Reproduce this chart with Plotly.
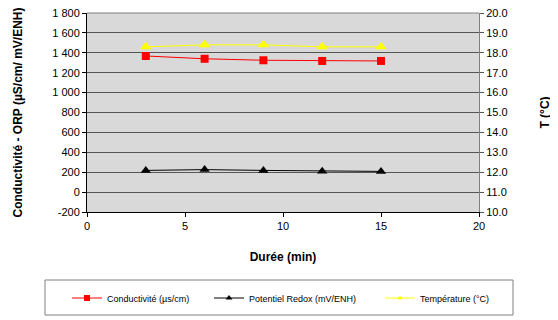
import plotly.graph_objects as go

duree = [3, 6, 9, 12, 15]
conductivite = [1368, 1340, 1325, 1318, 1318]
redox = [218, 226, 218, 210, 208]
temperature = [18.3, 18.4, 18.4, 18.3, 18.3]

left_tickvals = [-200, 0, 200, 400, 600, 800, 1000, 1200, 1400, 1600, 1800]
left_ticktext = ["-200", "0", "200", "400", "600", "800", "1 000", "1 200", "1 400", "1 600", "1 800"]
right_tickvals = [10, 11, 12, 13, 14, 15, 16, 17, 18, 19, 20]
x_tickvals = [0, 5, 10, 15, 20]

names = ["Conductivité (µs/cm)", "Potentiel Redox (mV/ENH)", "Température (°C)"]
colors = ["#FF0000", "#000000", "#FFFF00"]
symbols = ["square", "triangle-up", "triangle-up"]
sizes = [8, 9, 10]
legend_sizes = [6, 6, 5]

FONT = "Liberation Sans, Arial, sans-serif"
# page body has an 8px default margin; layout is expressed in screen pixels
OFF = 8
W, H = 558 - OFF, 320 - OFF
PL, PR, PT, PB = 87 - OFF, 479 - OFF, 13 - OFF, 212 - OFF
PW, PH = PR - PL, PB - PT

def px_x(p):
    return (p - OFF - PL) / PW

def px_y(p):
    return (PB - (p - OFF)) / PH

fig = go.Figure()
series = [(duree, conductivite, "y"), (duree, redox, "y"), (duree, temperature, "y2")]
legend_ids = ["legend", "legend2", "legend3"]
for i, (xs, ys, ax) in enumerate(series):
    fig.add_trace(go.Scatter(x=xs, y=ys, name=names[i], yaxis=ax, showlegend=False,
                             mode="lines+markers", line=dict(color=colors[i], width=1),
                             marker=dict(symbol=symbols[i], size=sizes[i], color=colors[i])))
    fig.add_trace(go.Scatter(x=[None], y=[None], name=names[i], yaxis=ax, showlegend=True,
                             legend=legend_ids[i],
                             mode="lines+markers", line=dict(color=colors[i], width=1),
                             marker=dict(symbol=symbols[i], size=legend_sizes[i], color=colors[i])))

legend_starts = [74, 216, 387]
legend_common = dict(orientation="h", xanchor="left", yanchor="middle", yref="paper",
                     font=dict(size=9, family=FONT), bgcolor="rgba(0,0,0,0)",
                     borderwidth=0, itemwidth=30)

fig.update_layout(
    width=W, height=H,
    margin=dict(l=PL, r=W - PR, t=PT, b=H - PB, autoexpand=False),
    paper_bgcolor="white", plot_bgcolor="#D9D9D9",
    font=dict(family=FONT, size=11, color="black"),
    showlegend=True,
    legend=dict(x=px_x(legend_starts[0] - 7), y=px_y(298), **legend_common),
    legend2=dict(x=px_x(legend_starts[1] - 7), y=px_y(298), **legend_common),
    legend3=dict(x=px_x(legend_starts[2] - 7), y=px_y(298), **legend_common),
    xaxis=dict(range=[0, 20], tickvals=x_tickvals, ticks="outside", ticklen=4,
               tickcolor="black", showline=True, linecolor="black", linewidth=1,
               showgrid=False, zeroline=False, automargin=False,
               title=dict(text="<b>Durée (min)</b>", font=dict(size=12), standoff=21)),
    yaxis=dict(range=[-200, 1800], tickvals=left_tickvals, ticktext=left_ticktext,
               ticks="outside", ticklen=4, tickcolor="black", automargin=False,
               ticklabeloverflow="allow",
               showline=True, linecolor="black", linewidth=1,
               showgrid=True, gridcolor="#555555", gridwidth=1, zeroline=False,
               title=dict(text="<b>Conductivité - ORP (µS/cm/ mV/ENH)</b>",
                          font=dict(size=12), standoff=27)),
    yaxis2=dict(range=[10, 20], tickvals=right_tickvals, tickformat=".1f",
                overlaying="y", side="right", ticks="outside", ticklen=4, automargin=False,
                ticklabeloverflow="allow",
                tickcolor="#555555", showline=True, linecolor="#808080", linewidth=1,
                showgrid=False, zeroline=False,
                title=dict(text="<b>T (°C)</b>", font=dict(size=12), standoff=33)),
    shapes=[
        dict(type="line", xref="paper", yref="paper", x0=0, x1=1, y0=1, y1=1,
             line=dict(color="#808080", width=1)),
        dict(type="rect", xref="paper", yref="paper",
             x0=px_x(45), x1=px_x(513), y0=px_y(315), y1=px_y(280),
             line=dict(color="#808080", width=1), fillcolor="rgba(0,0,0,0)"),
    ],
)

fig.write_html("out.html")
